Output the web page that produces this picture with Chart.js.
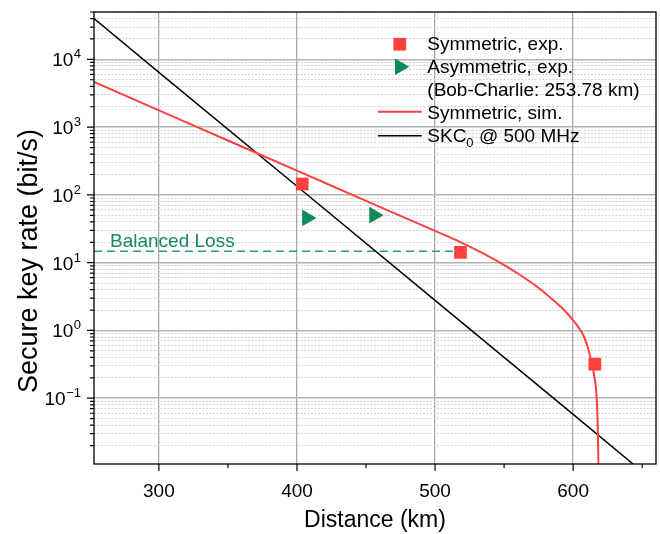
<!DOCTYPE html>
<html>
<head>
<meta charset="utf-8">
<script src="https://cdn.jsdelivr.net/npm/chart.js@4.4.1/dist/chart.umd.min.js"></script>
<style>
html,body{margin:0;padding:0;background:#ffffff;overflow:hidden;}
#wrap{width:660px;height:534px;overflow:hidden;}
canvas{display:block;width:660px;height:534px;}
</style>
</head>
<body>
<div id="wrap"><canvas id="c" width="660" height="534"></canvas></div>
<script>
// ---- data ----
const simDistance = [253, 300, 350, 400, 450, 500, 518, 533, 547, 561, 576, 588, 594, 600, 603, 606, 608, 610, 612, 613.5, 614.5, 615.7, 616.7, 617.4, 617.9, 618.3];
const simRate     = [4634, 1770, 635, 228, 81.8, 29.4, 20.3, 14.3, 10.0, 6.7, 4.1, 2.54, 1.95, 1.41, 1.175, 0.955, 0.794, 0.617, 0.437, 0.324, 0.263, 0.19, 0.126, 0.0708, 0.0316, 0.0107];
const skcDistance = [253, 300, 400, 500, 600, 643.4];
const skcRate     = [40000, 6440, 134, 2.78, 0.0578, 0.0107];
const symExpDistance  = [403.8, 518.4, 615.7];
const symExpRate      = [145, 14.2, 0.318];
const asymExpDistance = [407.2, 455.8];
const asymExpRate     = [45.8, 50.3];
const balancedDistance = [253, 513];
const balancedRate     = [14.8, 14.8];
const xMajorTicks = [300, 400, 500, 600];
const xMinorTicks = [350, 450, 550, 650];
const yDecades = [-1, 0, 1, 2, 3, 4];
const legendLabels = ['Symmetric, exp.', 'Asymmetric, exp.', '(Bob-Charlie: 253.78 km)', 'Symmetric, sim.', 'SKC'];
const xMin = 253, xMax = 660, yMin = 0.0107, yMax = 50000;

const RED = '#ff4040', GREEN = '#0e8a5c', TEAL = '#2a968c', TEXTGREEN = '#17895c';
const FONT = '"Liberation Sans", Arial, sans-serif';

const pts = (xs, ys) => xs.map((v, i) => ({x: v, y: ys[i]}));

const decorations = {
  id: 'decorations',
  afterDraw(chart) {
    const {ctx, chartArea: a, scales: {x, y}} = chart;
    ctx.save();
    ctx.strokeStyle = '#000';
    ctx.lineWidth = 1.3;
    ctx.strokeRect(a.left, a.top, a.right - a.left, a.bottom - a.top);
    ctx.lineWidth = 1.2;
    ctx.beginPath();
    xMajorTicks.forEach(v => { const p = x.getPixelForValue(v); ctx.moveTo(p, a.bottom); ctx.lineTo(p, a.bottom + 7); });
    xMinorTicks.forEach(v => { if (v <= xMax) { const p = x.getPixelForValue(v); ctx.moveTo(p, a.bottom); ctx.lineTo(p, a.bottom + 4); } });
    for (let e = -2; e <= 4; e++) {
      for (let m = 1; m <= 9; m++) {
        const v = m * Math.pow(10, e);
        if (v < yMin || v > yMax) continue;
        const p = y.getPixelForValue(v);
        ctx.moveTo(a.left, p); ctx.lineTo(a.left - (m === 1 ? 7 : 4), p);
      }
    }
    ctx.stroke();
    ctx.fillStyle = '#000';
    ctx.font = '19px ' + FONT;
    ctx.textAlign = 'center';
    ctx.textBaseline = 'alphabetic';
    xMajorTicks.forEach(v => ctx.fillText(String(v), x.getPixelForValue(v), 497));
    yDecades.forEach(e => {
      const p = y.getPixelForValue(Math.pow(10, e));
      const sup = e < 0 ? '\u2212' + Math.abs(e) : String(e);
      ctx.font = '13px ' + FONT;
      const ws = ctx.measureText(sup).width;
      const right = 81;
      ctx.textAlign = 'left';
      ctx.fillText(sup, right - ws, p - 1);
      ctx.font = '19px ' + FONT;
      ctx.textAlign = 'right';
      ctx.fillText('10', right - ws - 0.5, p + 7);
    });
    ctx.font = '23px ' + FONT;
    ctx.textAlign = 'center';
    ctx.fillText('Distance (km)', (a.left + a.right) / 2, 527);
    ctx.save();
    ctx.font = '27px ' + FONT;
    ctx.translate(37, 261);
    ctx.rotate(-Math.PI / 2);
    ctx.fillText('Secure key rate (bit/s)', 0, 0);
    ctx.restore();
    ctx.font = '19px ' + FONT;
    ctx.fillStyle = TEXTGREEN;
    ctx.textAlign = 'left';
    ctx.fillText('Balanced Loss', 110, 247);
    // legend
    const tx = 427.3;
    ctx.fillStyle = RED;
    ctx.fillRect(393.4, 37.9, 12.7, 12.7);
    ctx.fillStyle = GREEN;
    const cx = 399.8, cy = 66.8, r = 9.6;
    ctx.beginPath();
    for (let k = 0; k < 3; k++) {
      const ang = (90 + k * 120) * Math.PI / 180;
      const px = cx + Math.sin(ang) * r, py = cy - Math.cos(ang) * r;
      if (k === 0) ctx.moveTo(px, py); else ctx.lineTo(px, py);
    }
    ctx.closePath();
    ctx.fill();
    ctx.strokeStyle = RED; ctx.lineWidth = 2;
    ctx.beginPath(); ctx.moveTo(378, 111.7); ctx.lineTo(421.7, 111.7); ctx.stroke();
    ctx.strokeStyle = '#000'; ctx.lineWidth = 1.5;
    ctx.beginPath(); ctx.moveTo(378, 135.7); ctx.lineTo(421.7, 135.7); ctx.stroke();
    ctx.fillStyle = '#000';
    ctx.font = '19px ' + FONT;
    ctx.fillText(legendLabels[0], tx, 49.5);
    ctx.fillText(legendLabels[1], tx, 73.3);
    ctx.fillText(legendLabels[2], tx, 96);
    ctx.fillText(legendLabels[3], tx, 119);
    ctx.fillText(legendLabels[4], tx, 142);
    let w = ctx.measureText(legendLabels[4]).width;
    ctx.font = '13px ' + FONT;
    ctx.fillText('0', tx + w, 147);
    w += ctx.measureText('0').width;
    ctx.font = '19px ' + FONT;
    ctx.fillText(' @ 500 MHz', tx + w, 142);
    ctx.restore();
  }
};

new Chart(document.getElementById('c'), {
  type: 'scatter',
  data: {
    datasets: [
      {label: 'Balanced', data: pts(balancedDistance, balancedRate), showLine: true, borderColor: TEAL, borderWidth: 1.5, borderDash: [8, 5], pointRadius: 0, order: 5},
      {label: 'SKC0 @ 500 MHz', data: pts(skcDistance, skcRate), showLine: true, borderColor: '#000', borderWidth: 1.5, pointRadius: 0, order: 4},
      {label: 'Symmetric, sim.', data: pts(simDistance, simRate), showLine: true, borderColor: RED, borderWidth: 2, pointRadius: 0, cubicInterpolationMode: 'monotone', order: 3},
      {label: 'Symmetric, exp.', data: pts(symExpDistance, symExpRate), showLine: false, pointStyle: 'rect', pointRadius: 9, backgroundColor: RED, borderColor: RED, borderWidth: 0, order: 1},
      {label: 'Asymmetric, exp.', data: pts(asymExpDistance, asymExpRate), showLine: false, pointStyle: 'triangle', rotation: 90, pointRadius: 9.6, backgroundColor: GREEN, borderColor: GREEN, borderWidth: 0, order: 2}
    ]
  },
  options: {
    responsive: false,
    devicePixelRatio: 1,
    animation: false,
    events: [],
    layout: {autoPadding: false, padding: {left: 94, top: 12, right: 4, bottom: 70}},
    plugins: {legend: {display: false}, tooltip: {enabled: false}},
    scales: {
      x: {
        type: 'linear', min: xMin, max: xMax, bounds: 'data',
        afterBuildTicks: s => { s.ticks = xMajorTicks.map(v => ({value: v})); },
        ticks: {display: false},
        grid: {color: '#a8a8a8', lineWidth: 1.3, drawTicks: false},
        border: {display: false},
        title: {display: false}
      },
      y: {
        type: 'logarithmic', min: yMin, max: yMax, bounds: 'data',
        afterBuildTicks: s => {
          const t = [];
          for (let e = -2; e <= 4; e++) for (let m = 1; m <= 9; m++) {
            const v = m * Math.pow(10, e);
            if (v >= yMin && v <= yMax) t.push({value: v, major: m === 1});
          }
          s.ticks = t;
        },
        ticks: {display: false},
        grid: {
          color: c => (c.tick && c.tick.major) ? '#b4b4b4' : '#d2d2d2',
          lineWidth: c => (c.tick && c.tick.major) ? 1.5 : 1,
          drawTicks: false
        },
        border: {display: false, dash: c => (c.tick && c.tick.major) ? [] : [2, 1.5]},
        title: {display: false}
      }
    }
  },
  plugins: [decorations]
});
</script>
</body>
</html>
